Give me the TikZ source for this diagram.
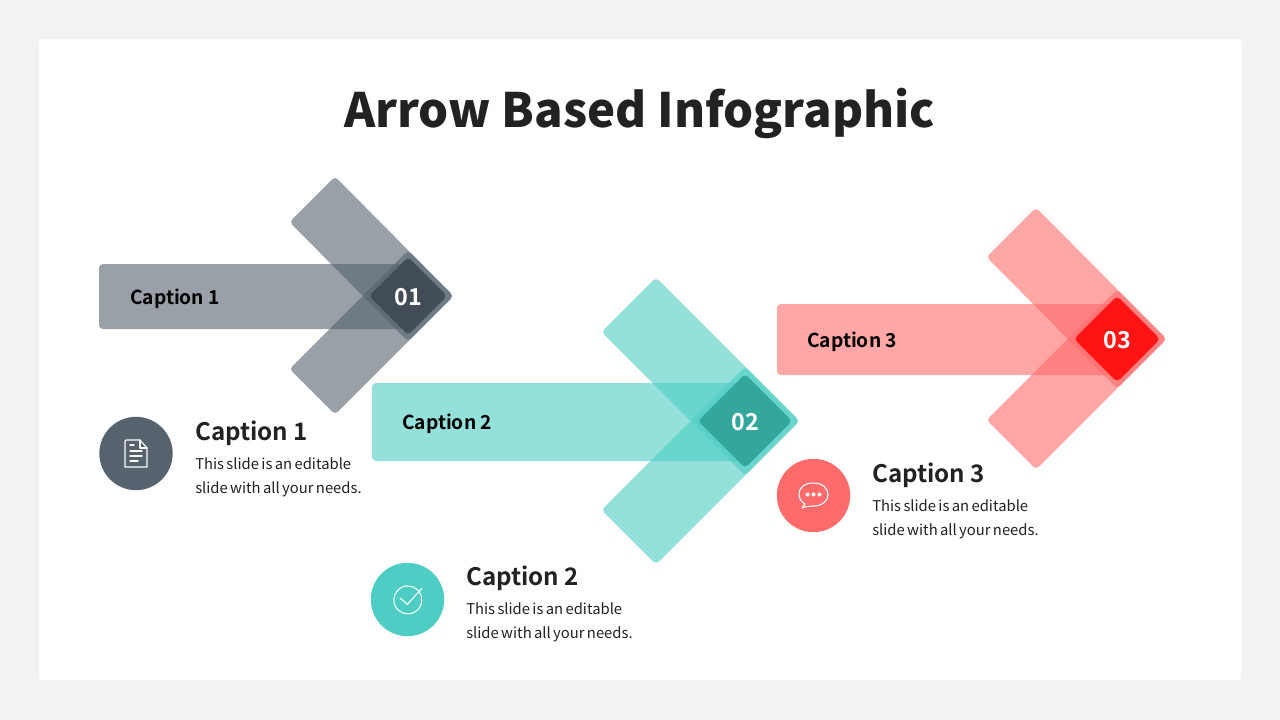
\documentclass[tikz,border=0pt]{standalone}
\usepackage{xcolor}
\usepackage{fontspec}
\setmainfont{Noto Sans CJK SC}[BoldFont={Noto Sans CJK SC Bold}]
\newfontfamily\titlefont{Noto Sans CJK SC Black}
\newfontfamily\bodyfont[WordSpace=0.72]{Noto Sans CJK SC}
\usetikzlibrary{positioning}
\definecolor{slate}{HTML}{56626E}
\definecolor{slatedark}{HTML}{424C56}
\definecolor{teal}{HTML}{4ECDC4}
\definecolor{tealdark}{HTML}{33A79C}
\definecolor{coral}{HTML}{FF6B6B}
\definecolor{coraldark}{HTML}{FF1414}
\definecolor{inkblack}{HTML}{222222}
\tikzset{
  bar/.style={fill=#1,fill opacity=.6,draw=none,rounded corners=3pt},
  gem/.style={fill=#1,draw=none,rounded corners=3pt},
  badge/.style={circle,fill=#1,draw=none,minimum size=55pt,inner sep=0pt},
  barlabel/.style={anchor=west,inner sep=0pt,text=black,font=\bfseries\fontsize{14.4}{18}\selectfont},
  numlabel/.style={inner sep=0pt,text=white,font=\bfseries\fontsize{17.5}{20}\selectfont},
  headlabel/.style={anchor=west,inner sep=0pt,text=inkblack,font=\bfseries\fontsize{18.1}{24}\selectfont},
  bodylabel/.style={anchor=north west,inner sep=0pt,align=left,text=inkblack,font=\bodyfont\fontsize{11.1}{18}\selectfont},
  iconline/.style={draw=white,line width=.8pt,line join=round,line cap=round}
}
\begin{document}
\begin{tikzpicture}[x=.75pt,y=-.75pt]
  \fill[black!5] (0,0) rectangle (1280,720);
  \fill[white,rounded corners=2pt] (39,39) rectangle (1241,680);
  \node[inner sep=0pt,text=inkblack,font=\titlefont\fontsize{35.5}{44}\selectfont] (title) at (639.5,113) {Arrow Based Infographic};

  % arrow 1
  \fill[bar=slate] (99,264) -- (408,264) [sharp corners] -- (408,329) [rounded corners=3pt] -- (99,329) -- cycle;
  \fill[bar=slate] (335,176.5) -- (453.5,296) -- (408,341.5) -- (289.5,222) -- cycle;
  \fill[bar=slate] (289.5,369) -- (335,414.5) -- (453.5,296) -- (408,250.5) -- cycle;
  \fill[gem=slatedark] (408,257) -- (447,296) -- (408,335) -- (369,296) -- cycle;
  \node[numlabel] (num1) at (408,297) {01};
  \node[barlabel] (bar1) at (130,299) {Caption 1};

  % arrow 2
  \fill[bar=teal] (372,383) -- (745,383) [sharp corners] -- (745,461) [rounded corners=3pt] -- (372,461) -- cycle;
  \fill[bar=teal] (656,277.5) -- (799.5,421) -- (745,475.5) -- (601.5,332) -- cycle;
  \fill[bar=teal] (601.5,510) -- (656,564.5) -- (799.5,421) -- (745,366.5) -- cycle;
  \fill[gem=tealdark] (745,374) -- (792,421) -- (745,468) -- (698,421) -- cycle;
  \node[numlabel] (num2) at (745,422) {02};
  \node[barlabel] (bar2) at (402,424) {Caption 2};

  % arrow 3
  \fill[bar=coral] (777,304) -- (1117,304) [sharp corners] -- (1117,375) [rounded corners=3pt] -- (777,375) -- cycle;
  \fill[bar=coral] (1036,207.5) -- (1166.5,339) -- (1117,388.5) -- (986.5,257) -- cycle;
  \fill[bar=coral] (986.5,420) -- (1036,469.5) -- (1166.5,339) -- (1117,289.5) -- cycle;
  \fill[gem=coraldark] (1117,296) -- (1160,339) -- (1117,382) -- (1074,339) -- cycle;
  \node[numlabel] (num3) at (1117,340) {03};
  \node[barlabel] (bar3) at (807,342) {Caption 3};

  % captions
  \node[badge=slate] (badge1) at (136,453.5) {};
  \node[headlabel] (head1) at (195,433) {Caption 1};
  \node[bodylabel] (body1) at (195,457.5) {This slide is an editable\\slide with all your needs.};

  \node[badge=teal] (badge2) at (407.5,599.5) {};
  \node[headlabel] (head2) at (466,578) {Caption 2};
  \node[bodylabel] (body2) at (466,602.5) {This slide is an editable\\slide with all your needs.};

  \node[badge=coral] (badge3) at (813.5,495.5) {};
  \node[headlabel] (head3) at (872,475) {Caption 3};
  \node[bodylabel] (body3) at (872,499.5) {This slide is an editable\\slide with all your needs.};

  % icons
  \draw[iconline] (140,440) -- (126,440) -- (125,441) -- (125,467) -- (147,467) -- (147,448) -- cycle;
  \draw[iconline] (140,440) -- (140,448) -- (147,448);
  \draw[iconline] (130,445) -- (134,445) (130,451) -- (142,451) (130,456) -- (142,456) (130,461) -- (138,461);

  \draw[iconline] (420.5,594) arc[start angle=-25,end angle=-395,radius=14] ;
  \draw[iconline] (400,598) -- (407.3,604.3) -- (422,588.3);

  \draw[iconline] (805,504) .. controls (801,502) and (799,498) .. (799,494) .. controls (799,487) and (805,483) .. (813.5,483) .. controls (822,483) and (828,488) .. (828,494.5) .. controls (828,501) and (822,506) .. (813.5,506) .. controls (810,506) and (808,506) .. (802,508) -- cycle;
  \fill[white] (807.5,494.5) circle (2) (813.5,494.5) circle (2) (819.5,494.5) circle (2);
\end{tikzpicture}
\end{document}
